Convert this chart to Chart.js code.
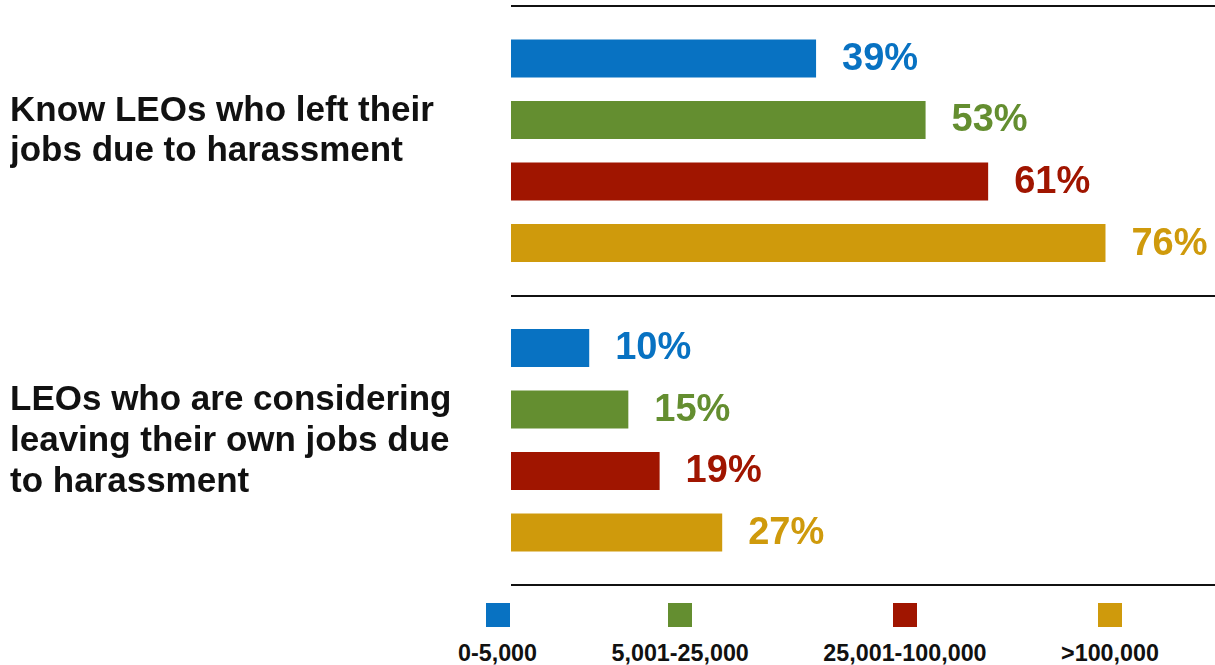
<!DOCTYPE html>
<html>
<head>
<meta charset="utf-8">
<script src="https://cdn.jsdelivr.net/npm/chart.js@4"></script>
<style>
  html, body { margin: 0; padding: 0; background: #fff; }
  #wrap { position: relative; width: 1215px; height: 665px; overflow: hidden; }
  #c { position: absolute; left: 0; top: 0; }
  #legend { position: absolute; left: 458px; top: 603px; display: flex; gap: 74.5px;
            font-family: "Liberation Sans", Arial, Helvetica, sans-serif; font-weight: bold; }
  .item { display: flex; flex-direction: column; align-items: center; }
  .sw { width: 24px; height: 24px; }
  .lab { font-size: 23.3px; line-height: 1; margin-top: 15px; color: #111; white-space: nowrap; }
</style>
</head>
<body>
<div id="wrap">
  <canvas id="c" width="1215" height="600"></canvas>
  <div id="legend"></div>
</div>
<script>
// ---- data ----
const categories = [
  ["Know LEOs who left their", "jobs due to harassment"],
  ["LEOs who are considering", "leaving their own jobs due", "to harassment"]
];
const seriesNames = ["0-5,000", "5,001-25,000", "25,001-100,000", ">100,000"];
const seriesColors = ["#0872C2", "#648E30", "#A01500", "#CF9A0C"];
const values0to5k = [39, 10];
const values5kto25k = [53, 15];
const values25kto100k = [61, 19];
const valuesOver100k = [76, 27];
const seriesValues = [values0to5k, values5kto25k, values25kto100k, valuesOver100k];

const FONT = '"Liberation Sans", Arial, Helvetica, sans-serif';

const valueLabels = {
  id: 'valueLabels',
  afterDatasetsDraw(chart) {
    const ctx = chart.ctx;
    ctx.save();
    ctx.font = 'bold 38px ' + FONT;
    ctx.textAlign = 'left';
    ctx.textBaseline = 'middle';
    chart.data.datasets.forEach((ds, i) => {
      const meta = chart.getDatasetMeta(i);
      meta.data.forEach((el, j) => {
        ctx.fillStyle = ds.backgroundColor;
        ctx.fillText(ds.data[j] + '%', el.x + 26, el.y + 1);
      });
    });
    ctx.restore();
  }
};

const chart = new Chart(document.getElementById('c'), {
  type: 'bar',
  data: {
    labels: categories,
    datasets: seriesNames.map((name, i) => ({
      label: name,
      data: seriesValues[i],
      backgroundColor: seriesColors[i],
      borderWidth: 0,
      barPercentage: 0.618,
      categoryPercentage: 0.85
    }))
  },
  options: {
    indexAxis: 'y',
    responsive: false,
    animation: false,
    layout: { padding: { left: 10, top: 6, right: 0, bottom: 15 } },
    plugins: { legend: { display: false }, tooltip: { enabled: false } },
    scales: {
      x: { display: false, min: 0, max: 90 },
      y: {
        afterFit(scale) { scale.width = 501; scale.paddingTop = 0; scale.paddingBottom = 0; },
        border: { display: false },
        grid: { color: '#111', lineWidth: 2, drawTicks: false, offset: true },
        ticks: {
          crossAlign: 'far',
          color: '#111',
          labelOffset: 1,
          padding: 0,
          font: { family: FONT, weight: 'bold', size: 35, lineHeight: 1.16 },
          callback(value, index) {
            const lbl = categories[index].slice();
            if (lbl.length === 2) lbl.push('');
            return lbl;
          }
        }
      }
    }
  },
  plugins: [valueLabels]
});

// HTML legend built from the series arrays
const legend = document.getElementById('legend');
seriesNames.forEach((name, i) => {
  const it = document.createElement('div'); it.className = 'item';
  const sw = document.createElement('div'); sw.className = 'sw'; sw.style.background = seriesColors[i];
  const lb = document.createElement('div'); lb.className = 'lab'; lb.textContent = name;
  it.appendChild(sw); it.appendChild(lb); legend.appendChild(it);
});
</script>
</body>
</html>
